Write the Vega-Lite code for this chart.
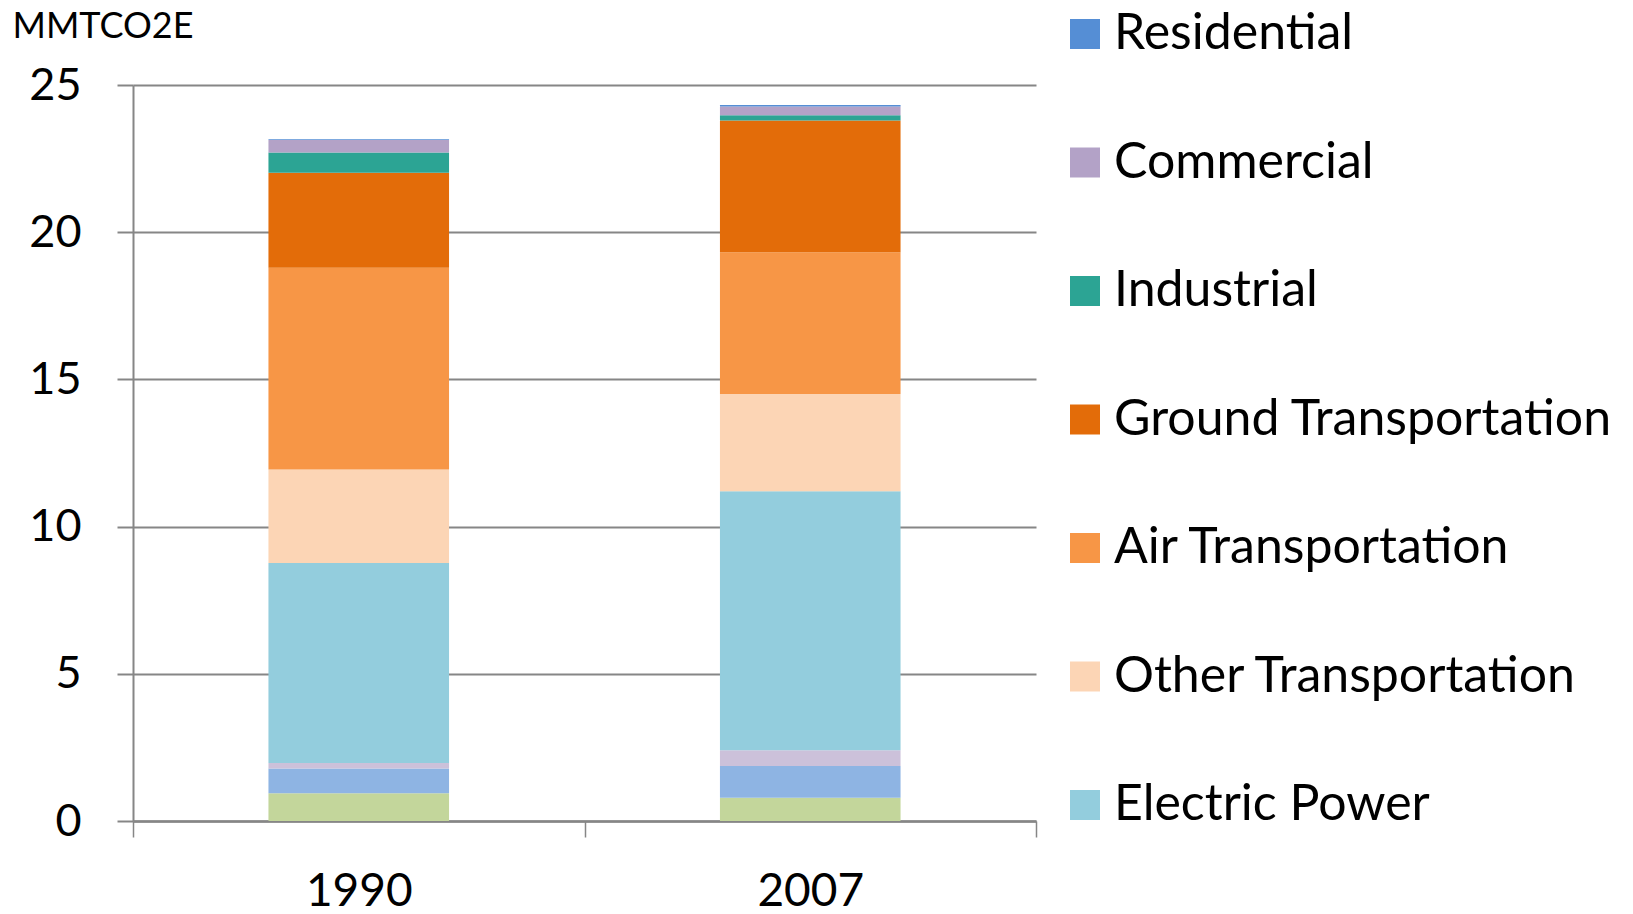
{
  "$schema": "https://vega.github.io/schema/vega-lite/v6.json",
  "width": 903,
  "height": 736,
  "autosize": {"type": "none"},
  "padding": {"left": 133, "top": 85, "right": 597, "bottom": 93},
  "background": "white",
  "config": {
    "font": "Lato",
    "view": {"stroke": null},
    "axis": {"labelFont": "Lato", "titleFont": "Lato"},
    "legend": {"labelFont": "Lato"}
  },
  "data": {
    "values": [
      {"year": "1990", "sector": "Sector A", "ord": 1, "value": 0.94},
      {"year": "1990", "sector": "Sector B", "ord": 2, "value": 0.84},
      {"year": "1990", "sector": "Sector C", "ord": 3, "value": 0.19},
      {"year": "1990", "sector": "Electric Power", "ord": 4, "value": 6.79},
      {"year": "1990", "sector": "Other Transportation", "ord": 5, "value": 3.18},
      {"year": "1990", "sector": "Air Transportation", "ord": 6, "value": 6.85},
      {"year": "1990", "sector": "Ground Transportation", "ord": 7, "value": 3.23},
      {"year": "1990", "sector": "Industrial", "ord": 8, "value": 0.69},
      {"year": "1990", "sector": "Commercial", "ord": 9, "value": 0.42},
      {"year": "1990", "sector": "Residential", "ord": 10, "value": 0.03},
      {"year": "2007", "sector": "Sector A", "ord": 1, "value": 0.79},
      {"year": "2007", "sector": "Sector B", "ord": 2, "value": 1.08},
      {"year": "2007", "sector": "Sector C", "ord": 3, "value": 0.53},
      {"year": "2007", "sector": "Electric Power", "ord": 4, "value": 8.8},
      {"year": "2007", "sector": "Other Transportation", "ord": 5, "value": 3.3},
      {"year": "2007", "sector": "Air Transportation", "ord": 6, "value": 4.82},
      {"year": "2007", "sector": "Ground Transportation", "ord": 7, "value": 4.47},
      {"year": "2007", "sector": "Industrial", "ord": 8, "value": 0.18},
      {"year": "2007", "sector": "Commercial", "ord": 9, "value": 0.3},
      {"year": "2007", "sector": "Residential", "ord": 10, "value": 0.05}
    ]
  },
  "mark": {"type": "bar", "width": {"band": 0.4}},
  "encoding": {
    "x": {
      "field": "year",
      "type": "nominal",
      "scale": {"paddingInner": 0, "paddingOuter": 0},
      "axis": {
        "title": null,
        "labelAngle": 0,
        "labelFontSize": 46,
        "labelColor": "#000000",
        "labelPadding": 32,
        "tickBand": "extent",
        "tickSize": 16,
        "tickColor": "#868686",
        "tickWidth": 1.5,
        "domainColor": "#868686",
        "domainWidth": 2.5,
        "grid": false
      }
    },
    "y": {
      "field": "value",
      "type": "quantitative",
      "aggregate": "sum",
      "stack": "zero",
      "scale": {"domain": [0, 25], "nice": false},
      "axis": {
        "values": [0, 5, 10, 15, 20, 25],
        "title": "MMTCO2E",
        "titleAngle": 0,
        "titleAlign": "left",
        "titleBaseline": "alphabetic",
        "titleX": -121,
        "titleY": -48,
        "titleFontSize": 36,
        "titleFontWeight": "normal",
        "titleColor": "#000000",
        "labelFontSize": 45,
        "labelColor": "#000000",
        "labelPadding": 36,
        "tickSize": 16,
        "tickColor": "#868686",
        "tickWidth": 2,
        "domainColor": "#868686",
        "domainWidth": 2,
        "grid": true,
        "gridColor": "#868686",
        "gridWidth": 2
      }
    },
    "color": {
      "field": "sector",
      "type": "nominal",
      "scale": {
        "domain": ["Residential", "Commercial", "Industrial", "Ground Transportation", "Air Transportation", "Other Transportation", "Electric Power", "Sector C", "Sector B", "Sector A"],
        "range": ["#558ED5", "#B3A2C7", "#2CA494", "#E36C09", "#F79646", "#FCD5B5", "#93CDDD", "#CCC1DA", "#8EB4E3", "#C3D69B"]
      },
      "legend": {
        "title": null,
        "orient": "none",
        "legendX": 927,
        "legendY": -76,
        "padding": 0,
        "values": ["Residential", "Commercial", "Industrial", "Ground Transportation", "Air Transportation", "Other Transportation", "Electric Power"],
        "symbolType": "square",
        "symbolSize": 900,
        "symbolStrokeWidth": 0,
        "labelFontSize": 50,
        "labelColor": "#000000",
        "labelOffset": 4,
        "labelLimit": 600,
        "rowPadding": 78.5
      }
    },
    "order": {"field": "ord", "type": "quantitative"}
  }
}
